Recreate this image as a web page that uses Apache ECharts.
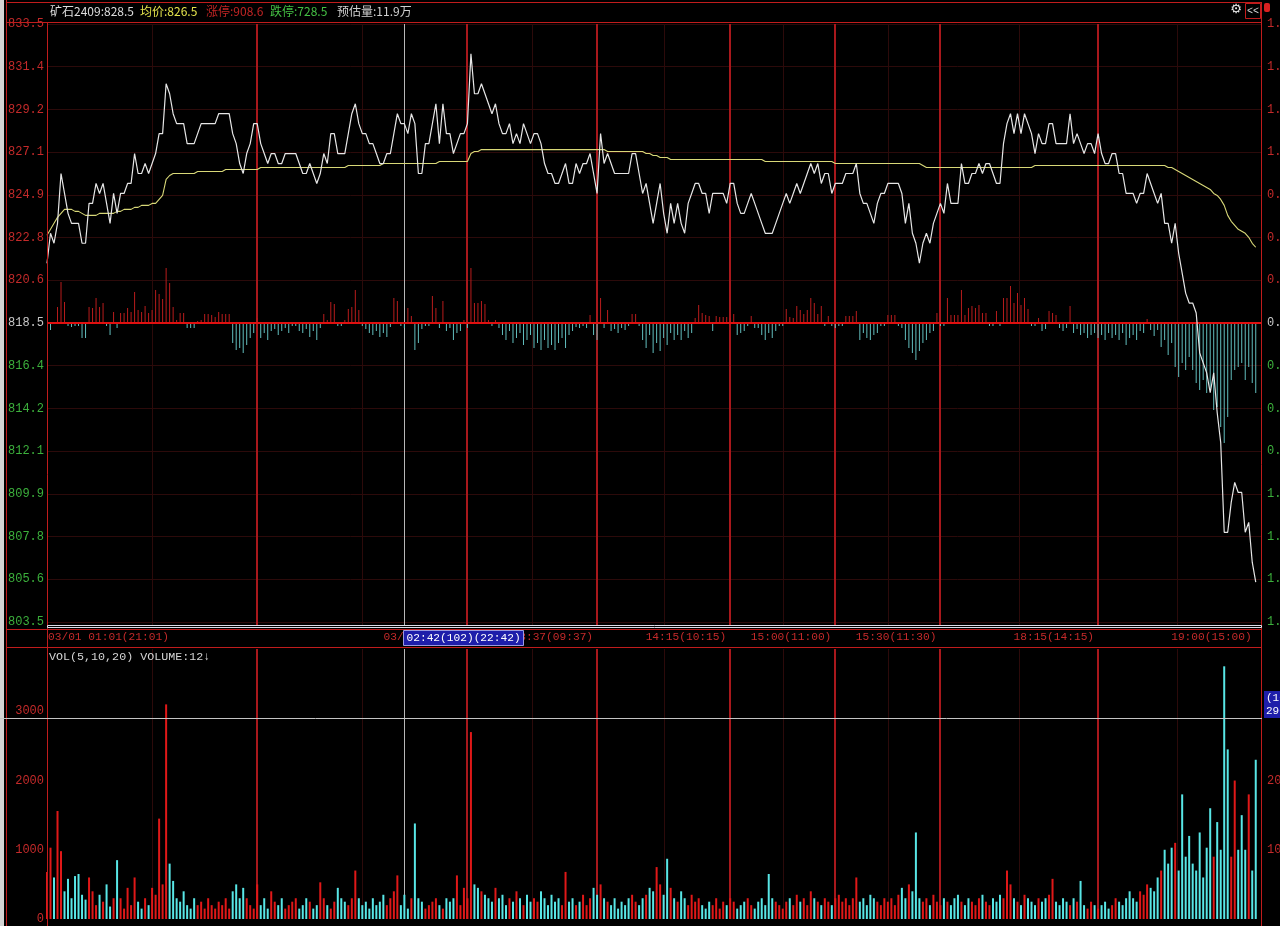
<!DOCTYPE html>
<html><head><meta charset="utf-8">
<script src="https://cdn.jsdelivr.net/npm/echarts@6/dist/echarts.min.js"></script>
<style>html,body{margin:0;padding:0;background:#000;}#c{width:1280px;height:926px;}</style>
</head><body><div id="c"></div>
<script>
// ---- data (one value per trading minute, 0..345) ----
const prices = [
821.5,823,822.5,823.5,826,825,824,823.5,823.5,823.5,
822.5,822.5,824.5,824.5,825.5,825,825.5,824.5,823.5,825,
824,825,825,825.5,825.5,827,826,826,826.5,826,
826.5,827,828,828,830.5,830,829,828.5,828.5,828.5,
827.5,827.5,827.5,828,828.5,828.5,828.5,828.5,828.5,829,
829,829,829,828,827.5,826.5,826,827,827.5,828.5,
828.5,827.5,827,826.5,827,827,826.5,826.5,827,827,
827,827,826.5,826,826,826.5,826,825.5,826,827,
826.5,828,828,827,827,827,828,829,829.5,828.5,
828,828,827.5,827.5,827,826.5,826.5,827,827,828,
829,828.5,828.5,828,829,828.5,826,826,827.5,827.5,
828.5,829.5,827.5,829.5,828,828,827,827.5,828,828,
828.5,832,830,830,830.5,830,829.5,829,829.5,828.5,
828,828,828.5,827.5,828,827.5,828.5,828,827.5,828,
828,827.5,826.5,826,826,825.5,825.5,826,826.5,825.5,
825.5,826.5,826,826.5,826.5,827,826,825,828,826.5,
827,826.5,826,826,826,826,826,827,827,826,
825,825.5,824.5,823.5,824.5,825.5,824,823,824.5,823.5,
824.5,823.5,823,824.5,825,825.5,825.5,825,825,824,
825,825,825,825,824.5,825.5,825.5,824.5,824,824,
824.5,825,824.5,824,823.5,823,823,823,823.5,824,
824.5,825,824.5,825,825.5,825,825.5,826,826.5,826,
826.5,825.5,826,826,825,825.5,825.5,825.5,826,826,
826,826.5,825,824.5,824.5,824,823.5,824.5,825,825,
825.5,825.5,825.5,825.5,825,823.5,824.5,823,822.5,821.5,
822.5,823,822.5,823.5,824,824.5,824,825.5,824.5,824.5,
824.5,826.5,825.5,825.5,826,826,826.5,826,826.5,826.5,
826,825.5,825.5,827.5,828.5,829,828,829,828,829,
828.5,828,827,828,827.5,827.5,828.5,828.5,827.5,827.5,
827.5,827.5,829,827.5,828,827.5,827,827.5,827.5,827,
828,827,826.5,826.5,827,827,826,826,825,825,
825,824.5,825,825,826,825.5,825,824.5,825,823.5,
823.5,822.5,823.5,822,821,820,819.5,819.5,819,817,
816.5,816,815,816,814,812.5,808,808,809.5,810.5,
810,810,808,808.5,806.5,805.5
];
const avgPrices = [
822.9,823.2,823.5,823.8,824.0,824.2,824.2,824.2,824.1,824.1,
824.0,823.9,823.9,823.9,823.9,824.0,824.0,824.0,824.0,824.0,
824.1,824.1,824.2,824.2,824.2,824.3,824.3,824.4,824.4,824.4,
824.5,824.5,824.7,824.9,825.7,825.9,826.0,826.0,826.0,826.0,
826.0,826.0,826.0,826.1,826.1,826.1,826.1,826.1,826.1,826.1,
826.1,826.2,826.2,826.2,826.2,826.2,826.2,826.2,826.2,826.2,
826.2,826.3,826.3,826.3,826.3,826.3,826.3,826.3,826.3,826.3,
826.3,826.3,826.3,826.3,826.3,826.3,826.3,826.3,826.3,826.3,
826.3,826.3,826.3,826.3,826.3,826.3,826.4,826.4,826.4,826.4,
826.4,826.4,826.4,826.4,826.4,826.4,826.5,826.5,826.5,826.5,
826.5,826.5,826.5,826.5,826.5,826.5,826.5,826.5,826.5,826.5,
826.5,826.5,826.6,826.6,826.6,826.6,826.6,826.6,826.6,826.6,
826.6,827.0,827.1,827.1,827.2,827.2,827.2,827.2,827.2,827.2,
827.2,827.2,827.2,827.2,827.2,827.2,827.2,827.2,827.2,827.2,
827.2,827.2,827.2,827.2,827.2,827.2,827.2,827.2,827.2,827.2,
827.2,827.2,827.2,827.2,827.2,827.2,827.2,827.2,827.2,827.2,
827.1,827.1,827.1,827.1,827.1,827.1,827.1,827.1,827.1,827.1,
827.1,827.0,827.0,826.9,826.9,826.8,826.8,826.8,826.7,826.7,
826.7,826.7,826.7,826.7,826.7,826.7,826.7,826.7,826.7,826.7,
826.7,826.7,826.7,826.7,826.7,826.7,826.7,826.7,826.7,826.7,
826.7,826.7,826.7,826.7,826.7,826.6,826.6,826.6,826.6,826.6,
826.6,826.6,826.6,826.6,826.6,826.6,826.6,826.6,826.6,826.6,
826.6,826.6,826.6,826.6,826.6,826.5,826.5,826.5,826.5,826.5,
826.5,826.5,826.5,826.5,826.5,826.5,826.5,826.5,826.5,826.5,
826.5,826.5,826.5,826.5,826.5,826.5,826.5,826.5,826.5,826.5,
826.4,826.3,826.3,826.3,826.3,826.3,826.3,826.3,826.3,826.3,
826.3,826.3,826.3,826.3,826.3,826.3,826.3,826.3,826.3,826.3,
826.3,826.3,826.3,826.3,826.3,826.3,826.3,826.3,826.3,826.3,
826.3,826.3,826.4,826.4,826.4,826.4,826.4,826.4,826.4,826.4,
826.4,826.4,826.4,826.4,826.4,826.4,826.4,826.4,826.4,826.4,
826.4,826.4,826.4,826.4,826.4,826.4,826.4,826.4,826.4,826.4,
826.4,826.4,826.4,826.4,826.4,826.4,826.4,826.4,826.4,826.4,
826.3,826.3,826.2,826.1,826.0,825.9,825.8,825.7,825.6,825.5,
825.4,825.3,825.2,825.0,824.9,824.7,824.4,823.9,823.6,823.4,
823.2,823.1,823.0,822.8,822.5,822.3
];
// buy/sell strength bars around the 818.5 line (positive red, negative cyan)
const strength = [
0,-7,0,16,41,21,-3,-4,-3,-3,
-15,-15,16,15,25,16,20,-3,-12,11,
-5,10,10,15,11,31,13,11,17,10,
13,33,29,24,55,40,16,3,10,10,
-5,-5,-5,2,3,9,9,8,6,11,
9,9,9,-20,-27,-25,-30,-22,-15,-10,
5,-15,-10,-17,-8,-6,-12,-8,-5,-10,
-3,-3,-8,-10,-6,-14,-8,-17,-5,9,
3,21,19,-3,-3,3,14,16,33,13,
-3,-6,-10,-12,-8,-14,-10,-14,-4,25,
22,-3,-5,15,7,-27,-20,-6,-3,-3,
27,15,-5,22,-8,-5,-17,-10,-8,3,
-5,55,20,20,22,19,3,-3,3,-5,
-12,-17,-8,-20,-15,-10,-22,-17,-12,-25,
-20,-27,-17,-25,-22,-27,-20,-15,-25,-12,
-8,-4,-5,-3,-5,8,-12,-17,25,-5,
13,-8,-6,-10,-5,-7,-3,9,9,-3,
-17,-25,-12,-30,-20,-28,-15,-22,-10,-17,
-12,-17,-8,-15,-10,5,18,10,8,7,
-8,7,6,6,6,5,9,-12,-10,-8,
-3,7,-5,-5,-12,-17,-10,-15,-8,-3,
-3,14,6,5,17,13,9,13,25,20,
9,17,-3,7,-3,-5,-3,-3,7,7,
7,12,-17,-10,-15,-17,-12,-10,-3,-3,
8,8,8,-3,-5,-17,-25,-30,-37,-28,
-20,-17,-10,-8,10,-3,-3,25,8,8,
8,33,8,15,17,15,18,10,10,-3,
-3,12,-3,25,25,37,20,30,18,25,
14,-3,-3,5,-8,-6,12,10,8,-5,
-8,-5,17,-10,-6,-12,-10,-15,-12,-10,
-15,-12,-17,-10,-15,-12,-17,-10,-22,-15,
-12,-17,-8,-10,4,-7,-13,-7,-24,-17,
-32,-20,-44,-54,-40,-47,-34,-47,-60,-67,
-57,-70,-67,-87,-84,-104,-120,-94,-57,-47,
-44,-40,-57,-44,-60,-70
];
const volumes = [
680,1030,600,1560,980,400,580,300,620,650,
350,280,600,400,200,350,250,500,180,300,
850,300,150,450,200,600,250,150,300,200,
450,350,1450,500,3100,800,550,300,250,400,
200,150,300,200,250,150,300,200,150,250,
200,300,150,400,500,300,450,300,200,150,
500,200,300,150,400,250,200,300,150,200,
250,300,150,200,300,250,150,200,530,300,
200,150,250,450,300,250,200,300,700,300,
200,250,150,300,200,250,350,200,300,400,
630,200,350,150,300,1380,300,250,150,200,
250,300,200,150,300,250,300,630,200,450,
300,2700,500,450,400,350,300,250,450,300,
350,200,300,250,400,300,200,350,250,300,
250,400,300,200,350,250,300,200,680,250,
300,200,250,350,200,300,450,350,500,300,
250,200,300,150,250,200,300,350,250,200,
300,350,450,400,750,500,350,870,450,300,
250,400,300,200,350,250,300,200,150,250,
200,300,150,250,200,300,250,150,200,250,
300,200,150,250,300,200,650,300,250,200,
150,250,300,200,350,250,300,200,400,300,
250,200,300,250,200,300,350,250,300,200,
300,600,250,300,200,350,300,250,200,300,
250,300,200,350,450,300,500,400,1250,300,
250,300,200,350,250,200,300,250,200,300,
350,250,200,300,250,200,300,350,250,200,
300,250,350,300,700,500,300,250,200,350,
300,250,200,300,250,300,350,580,250,200,
300,250,200,300,250,550,200,150,250,200,
150,200,250,150,200,300,250,200,300,400,
300,250,400,350,500,450,400,600,700,1000,
800,1030,1100,700,1800,900,1200,800,700,1250,
600,1030,1600,900,1400,1000,3650,2450,900,2000,
1000,1500,1000,1800,700,2300
];
const priceTicks = ['803.5','805.6','807.8','809.9','812.1','814.2','816.4','818.5','820.6','822.8','824.9','827.1','829.2','831.4','833.5'];
const pctTicks = ['1.83%','1.57%','1.31%','1.05%','0.79%','0.52%','0.26%','0.00%','0.26%','0.52%','0.79%','1.05%','1.31%','1.57%','1.83%'];
const dividerMinutes = [60,120,157,195,225,255,300];
const faintMinutes = [30,90,138.5,176,210,240,277.5,322.5];
const crossMinute = 102;
const crossVolume = 2903;
const timeLabels = [[0,'03/01 01:01(21:01)'],[120,'03/02 03:00(23:00)'],[157,'13:37(09:37)'],[195,'14:15(10:15)'],[225,'15:00(11:00)'],[255,'15:30(11:30)'],[300,'18:15(14:15)'],[345,'19:00(15:00)']];
const crossLabel = '02:42(102)(22:42)';
const crossVolLabel = ['(10','2903'];
const headerTexts = ['矿石2409:828.5','均价:826.5','涨停:908.6','跌停:728.5','预估量:11.9万'];
const volTitle = 'VOL(5,10,20) VOLUME:12↓';

// ---- styles ----
const MONO = '"Liberation Mono","DejaVu Sans Mono",monospace';
const FRAME = '#c01c1c', DIV = '#a8181c', FAINT = '#2c0a0a';
const LBL_RED = '#c42a2a', LBL_GREEN = '#3cb03c', LBL_GRAY = '#c8c8c8';
const BAR_RED = '#b81c1c', BAR_CYAN = '#62bebe';
const VOL_RED = '#e01818', VOL_CYAN = '#58e6e6';
const X_MAX = 346.5;

// volume colour from price direction
const volDir = [];
let d = 1;
prices.forEach((p, i) => { if (i > 0) { if (p > prices[i-1]) d = 1; else if (p < prices[i-1]) d = -1; } volDir.push(d); });

const chart = echarts.init(document.getElementById('c'), null, {width: 1280, height: 926});
chart.setOption({
  backgroundColor: '#000',
  animation: false,
  grid: [
    {left: 47, top: 24, width: 1214, height: 598, containLabel: false, outerBoundsMode: 'none'},
    {left: 47, top: 649, width: 1214, height: 270, containLabel: false, outerBoundsMode: 'none'}
  ],
  xAxis: [
    {type: 'value', gridIndex: 0, min: 0, max: X_MAX, show: false},
    {type: 'value', gridIndex: 1, min: 0, max: X_MAX, show: false}
  ],
  yAxis: [
    {type: 'value', gridIndex: 0, min: 803.5, max: 833.5, show: false},
    {type: 'value', gridIndex: 0, min: 0, max: 14, interval: 1, position: 'left',
     axisLine: {show: false}, axisTick: {show: false},
     splitLine: {show: true, lineStyle: {color: FAINT, width: 1}},
     axisLabel: {margin: 3, fontFamily: MONO, fontSize: 12,
       formatter: v => priceTicks[Math.round(v)],
       color: v => { const i = Math.round(Number(v)); return i < 7 ? LBL_GREEN : (i === 7 ? LBL_GRAY : LBL_RED); }}},
    {type: 'value', gridIndex: 0, min: 0, max: 14, interval: 1, position: 'right',
     axisLine: {show: false}, axisTick: {show: false}, splitLine: {show: false},
     axisLabel: {margin: 6, fontFamily: MONO, fontSize: 12,
       formatter: v => pctTicks[Math.round(v)],
       color: v => { const i = Math.round(Number(v)); return i < 7 ? LBL_GREEN : (i === 7 ? LBL_GRAY : LBL_RED); }}},
    {type: 'value', gridIndex: 0, min: -299, max: 299, show: false},
    {type: 'value', gridIndex: 1, min: 0, max: 3900, interval: 1000, position: 'left',
     axisLine: {show: false}, axisTick: {show: false}, splitLine: {show: false},
     axisLabel: {margin: 3, showMaxLabel: false, fontFamily: MONO, fontSize: 12, color: LBL_RED, formatter: v => String(v)}},
    {type: 'value', gridIndex: 1, min: 0, max: 3900, interval: 1000, position: 'right',
     axisLine: {show: false}, axisTick: {show: false}, splitLine: {show: false},
     axisLabel: {margin: 6, showMaxLabel: false, showMinLabel: false, fontFamily: MONO, fontSize: 12, color: LBL_RED, formatter: v => String(v)}}
  ],
  series: [
    {type: 'bar', xAxisIndex: 0, yAxisIndex: 3, barWidth: 1, z: 2, silent: true,
     data: strength.map((v, i) => ({value: [i, v], itemStyle: {color: v >= 0 ? BAR_RED : BAR_CYAN}})),
     markLine: {silent: true, symbol: ['none','none'], label: {show: false},
       data: [{yAxis: 0, lineStyle: {color: '#e01010', width: 2, type: 'solid'}}]}},
    {type: 'line', xAxisIndex: 0, yAxisIndex: 0, z: 3, silent: true, showSymbol: false, symbol: 'none',
     lineStyle: {color: '#d8d878', width: 1.1},
     data: avgPrices.map((v, i) => [i, v])},
    {type: 'line', xAxisIndex: 0, yAxisIndex: 0, z: 5, silent: true, showSymbol: false, symbol: 'none',
     lineStyle: {color: '#e6e6e6', width: 1.2},
     data: prices.map((v, i) => [i, v])},
    {type: 'bar', xAxisIndex: 1, yAxisIndex: 4, barWidth: 2, z: 2, silent: true,
     data: volumes.map((v, i) => ({value: [i, v], itemStyle: {color: volDir[i] > 0 ? VOL_RED : VOL_CYAN}}))}
  ]
});

// ---- frame, dividers, header and labels positioned through the chart's own scales ----
const px = m => chart.convertToPixel({xAxisIndex: 0}, m);
const volY = chart.convertToPixel({yAxisIndex: 4}, crossVolume);
const pTop = chart.convertToPixel({yAxisIndex: 0}, 833.5), pBot = chart.convertToPixel({yAxisIndex: 0}, 803.5);
const vTop = chart.convertToPixel({yAxisIndex: 4}, 3900), vBot = chart.convertToPixel({yAxisIndex: 4}, 0);
const crossX = Math.round(px(crossMinute)) - 0.5;
const L = (x1, y1, x2, y2, c, w, z) => ({type: 'line', silent: true, z: z == null ? 50 : z, shape: {x1, y1, x2, y2}, style: {stroke: c, lineWidth: w || 1}});
const T = (x, y, text, fill, font, align) => ({type: 'text', silent: true, z: 60, x, y,
  style: {text, fill, font, align: align || 'left', verticalAlign: 'middle', textAlign: align || 'left', textVerticalAlign: 'middle'}});

const g = [];
// vertical time dividers in both panels (behind the series)
const vline = (m, color, w, z) => {
  const x = w === 2 ? Math.round(px(m)) : Math.round(px(m)) + 0.5;
  g.push(L(x, pTop, x, pBot + 3, color, w, z));
  g.push(L(x, vTop, x, vBot, color, w, z));
};
faintMinutes.forEach(m => vline(m, FAINT, 1, 0));
dividerMinutes.forEach(m => vline(m, DIV, 2, 1));
vline(crossMinute, '#b8b8b8', 1, 1);

g.push({type: 'rect', silent: true, z: 50, shape: {x: 0, y: 0, width: 4, height: 926}, style: {fill: '#d4d4d4'}});
g.push(L(6.5, 0, 6.5, 926, FRAME));
g.push(L(6, 2.5, 1262, 2.5, FRAME));
g.push(L(6, 22.5, 1262, 22.5, FRAME));
g.push(L(47.5, 22.5, 47.5, 926, FRAME));
g.push(L(1261.5, 2.5, 1261.5, 926, FRAME));
g.push({type: 'rect', silent: true, z: 50, shape: {x: 47.5, y: 625.5, width: 1214, height: 2}, style: {fill: null, stroke: '#dcdce8', lineWidth: 1}});
g.push(L(6, 629.5, 1262, 629.5, FRAME));
g.push(L(6, 647.5, 1262, 647.5, FRAME));
// horizontal crosshair in volume panel
g.push(L(0, Math.round(volY) + 0.5, 1262, Math.round(volY) + 0.5, '#c4c4c4'));

// header
const headerX = [50, 140, 206, 270, 337];
const headerColors = ['#dcdcdc', '#e4e44c', '#c02424', '#44c044', '#d0d0d0'];
headerTexts.forEach((t, i) => g.push(T(headerX[i], 11, t, headerColors[i], '12px "Noto Sans CJK SC"')));
g.push(T(1236, 10, '⚙', '#e8e8e8', '13px "DejaVu Sans"', 'center'));
g.push({type: 'rect', silent: true, z: 55, shape: {x: 1245.5, y: 3.5, width: 15, height: 15}, style: {fill: '#000', stroke: FRAME, lineWidth: 1}});
g.push(T(1253, 11, '<<', '#d8d8d8', '10px ' + MONO, 'center'));
g.push({type: 'rect', silent: true, z: 55, shape: {x: 1264, y: 3, width: 6, height: 9, r: 2}, style: {fill: '#d82020'}});

// time labels
timeLabels.forEach(([m, t], i) => {
  if (i === 0) g.push(T(px(m) + 1, 637, t, LBL_RED, '11.2px ' + MONO, 'left'));
  else if (m === 120) g.push(T(crossX - 20, 637, t, LBL_RED, '11.2px ' + MONO, 'left'));
  else g.push(T(px(m) - 4, 637, t, LBL_RED, '11.2px ' + MONO, 'right'));
});
// crosshair time box
g.push({type: 'rect', silent: true, z: 70, shape: {x: crossX, y: 630.5, width: 120, height: 15}, style: {fill: '#1e1eaa', stroke: '#9a9ae0', lineWidth: 1}});
g.push({type: 'text', silent: true, z: 71, x: crossX + 3, y: 638,
  style: {text: crossLabel, fill: '#ffffff', font: '11.2px ' + MONO, align: 'left', verticalAlign: 'middle', textAlign: 'left', textVerticalAlign: 'middle'}});
// crosshair volume box (right)
g.push({type: 'rect', silent: true, z: 70, shape: {x: 1264, y: Math.round(volY) - 27, width: 16, height: 27}, style: {fill: '#1e1eaa'}});
g.push({type: 'text', silent: true, z: 71, x: 1266, y: Math.round(volY) - 20,
  style: {text: crossVolLabel[0], fill: '#ffffff', font: '11px ' + MONO, align: 'left', verticalAlign: 'middle', textAlign: 'left', textVerticalAlign: 'middle'}});
g.push({type: 'text', silent: true, z: 71, x: 1266, y: Math.round(volY) - 7,
  style: {text: crossVolLabel[1], fill: '#ffffff', font: '11px ' + MONO, align: 'left', verticalAlign: 'middle', textAlign: 'left', textVerticalAlign: 'middle'}});
// volume title
g.push(T(49, 657, volTitle, '#d4d4d4', '11.7px ' + MONO, 'left'));

chart.setOption({graphic: {elements: g}});
</script>
</body></html>
